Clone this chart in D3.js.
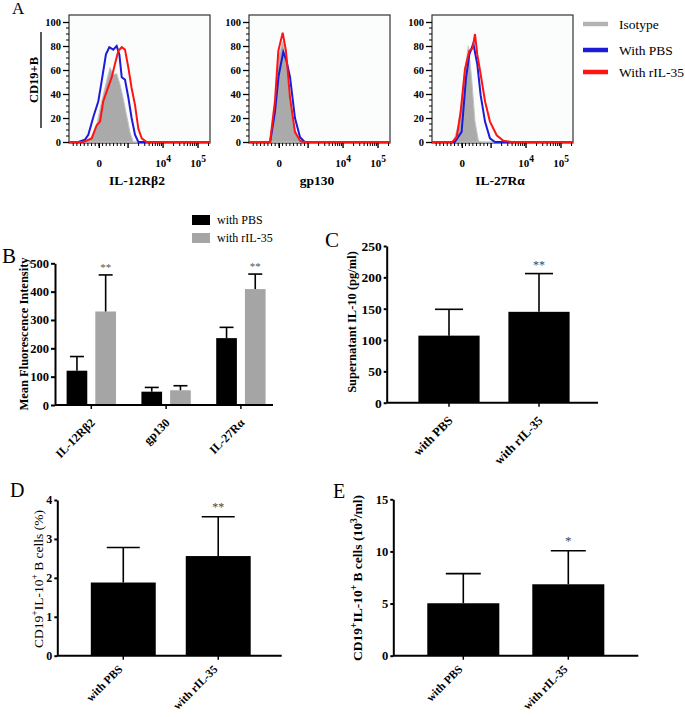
<!DOCTYPE html>
<html><head><meta charset="utf-8">
<script src="https://cdn.jsdelivr.net/npm/d3@7"></script>
<style>
body{margin:0;background:#fff}
svg{display:block}
text{font-family:"Liberation Serif","Times New Roman",serif;fill:#000}
</style></head><body>
<svg id="c" width="685" height="717"></svg>
<script>
// ---------- Panel A: flow histograms (x = % of axis width, y = % of max) ----------
const histTitles = ["IL-12Rβ2", "gp130", "IL-27Rα"];
const histXTickPos = [21.5, 66.7, 91.5];
const histXTickLabels = ["0", "10|4", "10|5"];
const histYTicks = [0, 20, 40, 60, 80, 100];
const legendLabels = ["Isotype", "With PBS", "With rIL-35"];
const legendColors = ["#b3b3b3", "#1c1cd8", "#ff1414"];

const il12Iso = [[0,0],[11,0],[16,4],[19.6,14],[23.2,34],[26.7,51],[29.1,62],[31.4,56],[33.8,57],[36.2,48],[38.5,36],[40.9,22],[43.3,8],[45.6,0],[100,0]];
const il12Pbs = [[0,0],[6.6,0],[11.3,2],[13.7,6],[17.3,21],[20.8,34],[23.2,51],[26.2,73],[28.6,79],[31.4,77],[33.8,80],[35.7,73],[37.4,54],[39.7,52],[42.1,37],[44.4,20],[46.8,6],[49.2,0],[100,0]];
const il12Ril = [[0,0],[10.2,0],[16.1,3],[19.6,14],[22,17],[24.3,34],[26.7,42],[30.3,54],[32.6,65],[35,76],[37.4,79],[39.7,77],[42.1,62],[44.4,45],[46.8,31],[49.2,11],[51.6,3],[55.1,0],[100,0]];
const gp130Iso = [[0,0],[15,0],[18.4,30],[20.8,70],[23.9,84],[26.2,70],[29.1,35],[32.6,10],[36,1],[38,0],[100,0]];
const gp130Pbs = [[0,0],[15,0],[18.4,25],[21,55],[24.3,75],[26.5,68],[29.1,54],[32.6,20],[36.2,4],[39.5,0],[100,0]];
const gp130Ril = [[0,0],[14.9,0],[18.4,34],[20.8,76],[23.9,91],[26.2,76],[29.1,37],[32.6,8.5],[36.2,1],[38.5,0],[100,0]];
const il27Iso = [[0,0],[15.1,0],[18.7,14],[21,34],[23.4,61],[25.8,80],[28.1,53],[30.5,17],[32.9,1],[35,0],[100,0]];
const il27Pbs = [[0,0],[16.2,0],[21,8.5],[24.1,53],[26.5,73],[29.3,82],[32.1,65],[34.5,39],[37.6,17],[41.1,3],[44.7,0],[100,0]];
const il27Ril = [[0,0],[14.4,0],[17.5,4],[20.3,25],[23.4,61],[26.5,76],[28.8,78],[30.5,90],[32.1,73],[34,60],[37.6,34],[41.1,17],[45.9,5.6],[50.6,1],[56.5,0],[100,0]];

// ---------- Panel B ----------
const bCategories = ["IL-12Rβ2", "gp130", "IL-27Rα"];
const bSeries = ["with PBS", "with rIL-35"];
const bPBS = [121, 47, 236];
const bPBSErrTop = [171, 62, 274];
const bRIL = [330, 52, 409];
const bRILErrTop = [459, 68, 462];
const bSig = ["**", "", "**"];
const bYTicks = [0, 100, 200, 300, 400, 500];

// ---------- Panels C, D, E ----------
const groupCats = ["with PBS", "with rIL-35"];
const cMean = [107, 145];
const cErrTop = [149, 206];
const cSig = ["", "**"];
const cYTicks = [0, 50, 100, 150, 200, 250];

const dMean = [1.88, 2.56];
const dErrTop = [2.78, 3.57];
const dSig = ["", "**"];
const dYTicks = [0, 1, 2, 3, 4];

const eMean = [5.03, 6.85];
const eErrTop = [7.87, 10.07];
const eSig = ["", "*"];
const eYTicks = [0, 5, 10, 15];

const svg = d3.select("#c");
const BOLD = "bold";
const SERIF = '"Liberation Serif","Times New Roman",serif';

function panelLetter(t, x, y, size) {
  svg.append("text").attr("x", x).attr("y", y).style("font-size", size + "px").text(t);
}

// ---------------- Panel A ----------------
panelLetter("A", 12, 14, 17);
const histLefts = [69, 249, 432];
const histData = [[il12Iso, il12Pbs, il12Ril], [gp130Iso, gp130Pbs, gp130Ril], [il27Iso, il27Pbs, il27Ril]];
histLefts.forEach((left, i) => {
  const g = svg.append("g");
  const x = d3.scaleLinear().domain([0, 100]).range([left, left + 141]);
  const y = d3.scaleLinear().domain([0, 100]).range([142, 22]);
  const line = d3.line().x(d => x(d[0])).y(d => y(d[1]));
  const area = d3.area().x(d => x(d[0])).y0(y(0)).y1(d => y(d[1]));
  g.append("rect").attr("x", left).attr("y", 15).attr("width", 141).attr("height", 128)
    .attr("fill", "#fbfdfd").attr("stroke", "#333").attr("stroke-width", 1.2);
  const [iso, pbs, ril] = histData[i];
  g.append("path").datum(iso).attr("d", area).attr("fill", "#aaaaaa").attr("stroke", "#c4c4c4").attr("stroke-width", 1);
  g.append("path").datum(pbs).attr("d", line).attr("fill", "none").attr("stroke", legendColors[1]).attr("stroke-width", 2);
  g.append("path").datum(ril).attr("d", line).attr("fill", "none").attr("stroke", legendColors[2]).attr("stroke-width", 2);
  const ya = d3.axisLeft(y).tickValues(histYTicks).tickSize(6).tickPadding(2).tickSizeOuter(0);
  const yg = g.append("g").attr("transform", `translate(${left},0)`).call(ya);
  yg.select(".domain").remove();
  yg.selectAll("text").style("font-size", "10.5px").style("font-weight", BOLD).style("font-family", SERIF);
  yg.selectAll("line").attr("stroke-width", 1.3);
  const minorY = d3.range(0, 101, 5).filter(v => v % 20 !== 0);
  g.selectAll(".my").data(minorY).enter().append("line")
    .attr("x1", left - 3).attr("x2", left).attr("y1", d => y(d)).attr("y2", d => y(d)).attr("stroke", "#000").attr("stroke-width", 1);
  const decade = histXTickPos[2] - histXTickPos[1];
  const minorX = [];
  [histXTickPos[1] - decade, histXTickPos[1], histXTickPos[2]].forEach(s => {
    for (let k = 2; k <= 9; k++) { const v = s + decade * Math.log10(k); if (v < 100) minorX.push(v); }
  });
  for (let v = 3; v < 42; v += 2.6) minorX.push(v);
  g.selectAll(".mx").data(minorX).enter().append("line")
    .attr("x1", d => x(d)).attr("x2", d => x(d)).attr("y1", 143).attr("y2", 146).attr("stroke", "#000").attr("stroke-width", 1);
  const majX = [histXTickPos[1] - decade, ...histXTickPos];
  g.selectAll(".Mx").data(majX).enter().append("line")
    .attr("x1", d => x(d)).attr("x2", d => x(d)).attr("y1", 143).attr("y2", 148).attr("stroke", "#000").attr("stroke-width", 1.4);
  histXTickLabels.forEach((lab, j) => {
    const [base, sup] = lab.split("|");
    const t = g.append("text").attr("x", x(histXTickPos[j])).attr("y", 167).attr("text-anchor", "middle")
      .style("font-size", "11px").style("font-weight", BOLD);
    t.append("tspan").text(base);
    if (sup) t.append("tspan").attr("dy", -5).style("font-size", "9.5px").text(sup);
  });
  g.append("text").attr("x", left + 68).attr("y", 185).attr("text-anchor", "middle")
    .style("font-size", "13.5px").style("font-weight", BOLD).text(histTitles[i]);
});
svg.append("text").attr("transform", "translate(38,80) rotate(-90)").attr("text-anchor", "middle")
  .style("font-size", "12.5px").style("font-weight", BOLD).text("CD19+B");
svg.append("line").attr("x1", 41).attr("x2", 41).attr("y1", 32).attr("y2", 128).attr("stroke", "#000").attr("stroke-width", 1.3);
legendLabels.forEach((lab, i) => {
  const yy = [24, 50, 72][i];
  svg.append("line").attr("x1", 583).attr("x2", 608).attr("y1", yy).attr("y2", yy)
    .attr("stroke", legendColors[i]).attr("stroke-width", 4.5);
  svg.append("text").attr("x", 619).attr("y", yy + 5).style("font-size", "13.5px").text(lab);
});

// ---------------- generic helpers ----------------
function styleYAxis(g, size) {
  g.select(".domain").attr("stroke-width", 2);
  g.selectAll(".tick line").attr("stroke-width", 2);
  g.selectAll("text").style("font-size", size + "px").style("font-weight", BOLD).style("font-family", SERIF);
}
function xAxisRotated(g, scale, y0, size, ly) {
  const ax = d3.axisBottom(scale).tickSize(4).tickSizeOuter(0);
  const xg = g.append("g").attr("transform", `translate(0,${y0})`).call(ax);
  xg.select(".domain").remove();
  xg.selectAll(".tick line").attr("stroke-width", 1.5);
  xg.selectAll("text").style("font-size", size + "px").style("font-weight", BOLD).style("font-family", SERIF)
    .attr("text-anchor", "end").attr("x", -10).attr("y", ly).attr("dy", "0.35em").attr("transform", "rotate(-45)");
  return xg;
}
function errBar(g, cx, yTopBar, yErr, capW) {
  g.append("line").attr("x1", cx).attr("x2", cx).attr("y1", yTopBar).attr("y2", yErr).attr("stroke", "#000").attr("stroke-width", 1.6);
  g.append("line").attr("x1", cx - capW / 2).attr("x2", cx + capW / 2).attr("y1", yErr).attr("y2", yErr).attr("stroke", "#000").attr("stroke-width", 1.6);
}

// ---------------- Panel B ----------------
panelLetter("B", 2, 263, 21);
{
  const g = svg.append("g");
  const y = d3.scaleLinear().domain([0, 500]).range([405, 263.3]);
  const x0 = d3.scaleBand().domain(bCategories).range([53.9, 278.3]).paddingInner(0.34).paddingOuter(0.17);
  const x1 = d3.scaleBand().domain(bSeries).range([0, x0.bandwidth()]).paddingInner(0.28);
  const vals = [bPBS, bRIL], errs = [bPBSErrTop, bRILErrTop], cols = ["#000", "#a5a5a5"];
  bCategories.forEach((c, i) => {
    bSeries.forEach((s, j) => {
      const bx = x0(c) + x1(s);
      g.append("rect").attr("x", bx).attr("y", y(vals[j][i])).attr("width", x1.bandwidth())
        .attr("height", y(0) - y(vals[j][i])).attr("fill", cols[j]);
      errBar(g, bx + x1.bandwidth() / 2, y(vals[j][i]), y(errs[j][i]), 14);
    });
    if (bSig[i]) g.append("text").attr("x", x0(c) + x1(bSeries[1]) + x1.bandwidth() / 2).attr("y", y(bRILErrTop[i]) - 4)
      .attr("text-anchor", "middle").style("font-size", "11px").style("fill", "#555").text(bSig[i]);
  });
  g.append("line").attr("x1", 55).attr("x2", 273).attr("y1", y(0)).attr("y2", y(0)).attr("stroke", "#000").attr("stroke-width", 2);
  const yg = g.append("g").attr("transform", "translate(55,0)")
    .call(d3.axisLeft(y).tickValues(bYTicks).tickFormat(d3.format("d")).tickSize(4).tickPadding(2).tickSizeOuter(0));
  styleYAxis(yg, 12.5);
  const xs = d3.scaleBand().domain(bCategories).range(x0.range()).paddingInner(0.34).paddingOuter(0.17);
  xAxisRotated(g, xs, 405, 12, 12);
  g.append("text").attr("transform", "translate(28,334) rotate(-90)").attr("text-anchor", "middle")
    .style("font-size", "12.5px").style("font-weight", BOLD).text("Mean Fluorescence Intensity");
  bSeries.forEach((s, j) => {
    const yy = [220, 238][j];
    g.append("rect").attr("x", 192).attr("y", yy - 5).attr("width", 18).attr("height", 10).attr("fill", cols[j]);
    g.append("text").attr("x", 217).attr("y", yy + 4).style("font-size", "12px").text(s);
  });
}

// ---------------- Panels C, D, E ----------------
function simpleBar(opt) {
  const g = svg.append("g");
  const y = d3.scaleLinear().domain([0, opt.yMax]).range([opt.y0, opt.yTopPx]);
  const x = d3.scaleBand().domain(groupCats).range([opt.r0, opt.r1]).paddingInner(opt.pi).paddingOuter(opt.pi / 2);
  groupCats.forEach((c, i) => {
    g.append("rect").attr("x", x(c)).attr("y", y(opt.mean[i])).attr("width", x.bandwidth())
      .attr("height", y(0) - y(opt.mean[i])).attr("fill", "#000");
    const cx = x(c) + x.bandwidth() / 2;
    errBar(g, cx, y(opt.mean[i]), y(opt.err[i]), opt.cap);
    if (opt.sig[i]) g.append("text").attr("x", cx).attr("y", y(opt.err[i]) - opt.sigOff)
      .attr("text-anchor", "middle").style("font-size", opt.sigSize + "px").style("fill", "#444").text(opt.sig[i]);
  });
  g.append("line").attr("x1", opt.ax).attr("x2", opt.axEnd).attr("y1", y(0)).attr("y2", y(0)).attr("stroke", "#000").attr("stroke-width", 2);
  const yg = g.append("g").attr("transform", `translate(${opt.ax},0)`)
    .call(d3.axisLeft(y).tickValues(opt.ticks).tickFormat(d3.format("d")).tickSize(3).tickPadding(2).tickSizeOuter(0));
  styleYAxis(yg, opt.tickSize);
  xAxisRotated(g, x, opt.y0, opt.xLabSize, opt.xLabY);
  const t = g.append("text").attr("transform", `translate(${opt.labX},${opt.labY}) rotate(-90)`).attr("text-anchor", "middle")
    .style("font-size", opt.labSize + "px").style("font-weight", opt.labWeight);
  opt.label.forEach(p => {
    const ts = t.append("tspan").text(p.t);
    if (p.sup) ts.attr("baseline-shift", "super").style("font-size", (opt.labSize * 0.7) + "px");
  });
}

panelLetter("C", 325, 247, 21);
simpleBar({ yMax: 250, y0: 402.7, yTopPx: 246, r0: 404, r1: 584, pi: 0.32, mean: cMean, err: cErrTop, sig: cSig,
  cap: 28, sigOff: 5, sigSize: 12, ax: 386.7, axEnd: 598, ticks: cYTicks, tickSize: 13.5, xLabSize: 12.5, xLabY: 12,
  labX: 356, labY: 322, labSize: 12.5, labWeight: BOLD, label: [{ t: "Supernatant  IL-10 (pg/ml)" }] });

panelLetter("D", 10, 497, 20);
simpleBar({ yMax: 4, y0: 655.7, yTopPx: 500, r0: 75.8, r1: 265.7, pi: 0.316, mean: dMean, err: dErrTop, sig: dSig,
  cap: 33, sigOff: 6, sigSize: 12, ax: 57.3, axEnd: 281.7, ticks: dYTicks, tickSize: 12, xLabSize: 11.5, xLabY: 6,
  labX: 43, labY: 579, labSize: 13.5, labWeight: "normal",
  label: [{ t: "CD19" }, { t: "+", sup: true }, { t: "IL-10" }, { t: "+", sup: true }, { t: " B cells (%)" }] });

panelLetter("E", 333, 498, 20);
simpleBar({ yMax: 15, y0: 655.7, yTopPx: 499.3, r0: 410.8, r1: 620.8, pi: 0.314, mean: eMean, err: eErrTop, sig: eSig,
  cap: 35, sigOff: 6, sigSize: 13, ax: 393.3, axEnd: 638.3, ticks: eYTicks, tickSize: 12.5, xLabSize: 11.5, xLabY: 6,
  labX: 362, labY: 578, labSize: 13.5, labWeight: BOLD,
  label: [{ t: "CD19" }, { t: "+", sup: true }, { t: "IL-10" }, { t: "+", sup: true }, { t: "  B cells (10" }, { t: "3", sup: true }, { t: "/ml)" }] });
</script>
</body></html>
